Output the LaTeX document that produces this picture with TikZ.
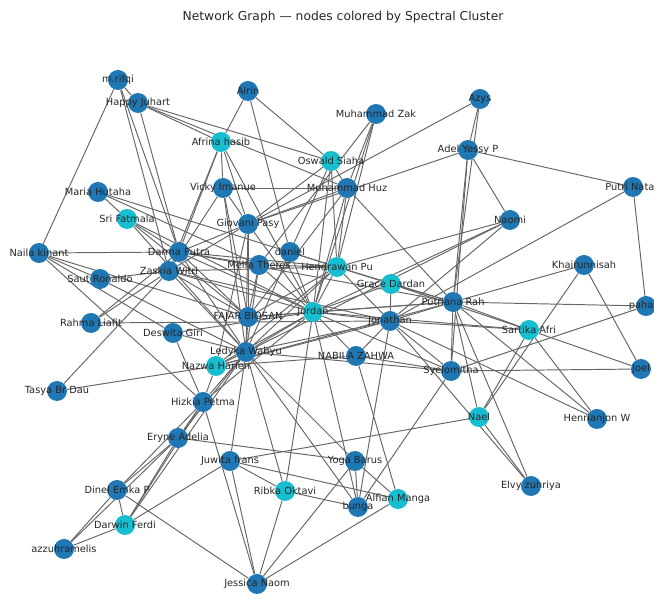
\documentclass[tikz,border=0pt]{standalone}
\usepackage{fontspec}
\setmainfont{DejaVu Sans}
\usepackage{xcolor}
\usepackage{tikz}
\definecolor{clusterBlue}{HTML}{1F77B4}
\definecolor{clusterCyan}{HTML}{17BECF}
\pgfdeclarelayer{background}
\pgfsetlayers{background,main}

\begin{document}
\begin{tikzpicture}[x = 0.02cm, y = -0.02cm, font = \fontsize{5.6}{6}\selectfont,
                    blueNode/.style  = {circle, fill = clusterBlue, minimum size = 0.4cm, inner sep = 0pt},
                    cyanNode/.style  = {circle, fill = clusterCyan, minimum size = 0.4cm, inner sep = 0pt},
                    nameLabel/.style = {text = black!85, inner sep = 0pt},
                    edgeLine/.style  = {draw = black!60, line width = 0.55pt}]
    \clip (0,0) rectangle (654,594);

    \node [font = \fontsize{7}{8}\selectfont, text = black!85] (title) at (343,17) {Network Graph — nodes colored by Spectral Cluster};

    % cluster nodes
    \node [blueNode] (mRifqi)       at (118, 80) {};
    \node [blueNode] (happyJuhart)  at (138,103) {};
    \node [blueNode] (airin)        at (248, 91) {};
    \node [blueNode] (azys)         at (480, 99) {};
    \node [blueNode] (muhammadZak)  at (376,114) {};
    \node [cyanNode] (afrinaHasib)  at (221,142) {};
    \node [cyanNode] (oswaldSiaha)  at (331,161) {};
    \node [blueNode] (adelYessy)    at (468,150) {};
    \node [blueNode] (muhammadHuz)  at (347,188) {};
    \node [blueNode] (vickyImanue)  at (223,188) {};
    \node [blueNode] (mariaHutaha)  at ( 98,192) {};
    \node [blueNode] (putriNatah)   at (633,187) {};
    \node [cyanNode] (sriFatmala)   at (127,219) {};
    \node [blueNode] (giovaniPasy)  at (248,224) {};
    \node [blueNode] (naomi)        at (510,220) {};
    \node [blueNode] (nailaKinant)  at ( 39,253) {};
    \node [blueNode] (darmaPutra)   at (179,252) {};
    \node [blueNode] (daniel)       at (290,252) {};
    \node [blueNode] (melfaTheres)  at (259,265) {};
    \node [cyanNode] (hendrawanPu)  at (337,267) {};
    \node [blueNode] (khairunnisah) at (584,265) {};
    \node [blueNode] (zaskiaWitri)  at (169,271) {};
    \node [blueNode] (sautRonaldo)  at (100,279) {};
    \node [cyanNode] (graceDardan)  at (391,284) {};
    \node [blueNode] (fajarBiosan)  at (248,317) {};
    \node [cyanNode] (jordan)       at (313,312) {};
    \node [blueNode] (putrianaRah)  at (453,302) {};
    \node [blueNode] (paha)         at (646,306) {};
    \node [blueNode] (jonathan)     at (390,321) {};
    \node [blueNode] (rahmaLiafit)  at ( 91,323) {};
    \node [blueNode] (deswitaGiri)  at (173,333) {};
    \node [cyanNode] (sartikaAfri)  at (529,330) {};
    \node [blueNode] (ledykaWahyu)  at (246,352) {};
    \node [cyanNode] (nazwaHarien)  at (216,366) {};
    \node [blueNode] (nabilaZahwa)  at (356,356) {};
    \node [blueNode] (syelomitha)   at (451,371) {};
    \node [blueNode] (joel)         at (641,369) {};
    \node [blueNode] (tasyaBrDau)   at ( 57,391) {};
    \node [blueNode] (hizkiaPetma)  at (203,402) {};
    \node [cyanNode] (nael)         at (479,417) {};
    \node [blueNode] (henrianjonW)  at (597,419) {};
    \node [blueNode] (eryneAdelia)  at (178,438) {};
    \node [blueNode] (juwitaFrans)  at (230,461) {};
    \node [blueNode] (yogaBarus)    at (355,461) {};
    \node [blueNode] (elvyZuhriya)  at (531,486) {};
    \node [blueNode] (dinelEmka)    at (117,490) {};
    \node [cyanNode] (ribkaOktavi)  at (285,491) {};
    \node [cyanNode] (alfianManga)  at (398,499) {};
    \node [blueNode] (bunga)        at (358,507) {};
    \node [cyanNode] (darwinFerdi)  at (125,525) {};
    \node [blueNode] (azzuhramelis) at ( 64,549) {};
    \node [blueNode] (jessicaNaom)  at (257,584) {};

    % names on top of the circles
    \foreach \n/\t in {mRifqi/m.rifqi, happyJuhart/Happy Juhart, airin/Airin, azys/Azys,
                       muhammadZak/Muhammad Zak, afrinaHasib/Afrina hasib, oswaldSiaha/Oswald Siaha,
                       adelYessy/Adel Yessy P, muhammadHuz/Muhammad Huz, vickyImanue/Vicky Imanue,
                       mariaHutaha/Maria Hutaha, putriNatah/Putri Natah, sriFatmala/Sri Fatmala,
                       giovaniPasy/Giovani Pasy, naomi/Naomi, nailaKinant/Naila kinant,
                       darmaPutra/Darma Putra, daniel/daniel, melfaTheres/Melfa Theres,
                       hendrawanPu/Hendrawan Pu, khairunnisah/Khairunnisah, zaskiaWitri/Zaskia Witri,
                       sautRonaldo/Saut Ronaldo, graceDardan/Grace Dardan, fajarBiosan/FAJAR BIOSAN,
                       jordan/Jordan, putrianaRah/Putriana Rah, jonathan/Jonathan,
                       rahmaLiafit/Rahma Liafit, deswitaGiri/Deswita Giri, sartikaAfri/Sartika Afri,
                       ledykaWahyu/Ledyka Wahyu, nazwaHarien/Nazwa Harien, nabilaZahwa/NABILA ZAHWA,
                       syelomitha/Syelomitha, joel/Joel, tasyaBrDau/Tasya Br Dau,
                       hizkiaPetma/Hizkia Petma, nael/Nael, henrianjonW/Henrianjon W,
                       eryneAdelia/Eryne Adelia, juwitaFrans/Juwita frans, yogaBarus/Yoga Barus,
                       elvyZuhriya/Elvy zuhriya, dinelEmka/Dinel Emka P, ribkaOktavi/Ribka Oktavi,
                       alfianManga/Alfian Manga, bunga/bunga, darwinFerdi/Darwin Ferdi,
                       azzuhramelis/azzuhramelis, jessicaNaom/Jessica Naom}
        \node [nameLabel] at (\n) {\t};
    \node [nameLabel, anchor = west] at ([xshift = -10] paha.center) {paha};

    % connections
    \begin{pgfonlayer}{background}
        \foreach \a/\b in {mRifqi/nailaKinant, mRifqi/happyJuhart, mRifqi/zaskiaWitri, mRifqi/darmaPutra,
                           happyJuhart/afrinaHasib, happyJuhart/oswaldSiaha, happyJuhart/darmaPutra, happyJuhart/muhammadHuz,
                           airin/afrinaHasib, airin/oswaldSiaha, airin/daniel,
                           afrinaHasib/vickyImanue, afrinaHasib/giovaniPasy, afrinaHasib/darmaPutra, afrinaHasib/jordan, afrinaHasib/zaskiaWitri,
                           azys/adelYessy, azys/giovaniPasy, azys/putrianaRah,
                           adelYessy/putriNatah, adelYessy/naomi, adelYessy/giovaniPasy, adelYessy/putrianaRah, adelYessy/syelomitha,
                           muhammadZak/hendrawanPu, muhammadZak/jordan, muhammadZak/melfaTheres,
                           oswaldSiaha/muhammadHuz, oswaldSiaha/hendrawanPu, oswaldSiaha/jordan, oswaldSiaha/giovaniPasy, oswaldSiaha/daniel,
                           muhammadHuz/vickyImanue, muhammadHuz/giovaniPasy, muhammadHuz/hendrawanPu, muhammadHuz/jordan,
                           muhammadHuz/fajarBiosan, muhammadHuz/putrianaRah, muhammadHuz/muhammadZak,
                           vickyImanue/giovaniPasy, vickyImanue/ledykaWahyu, vickyImanue/fajarBiosan, vickyImanue/zaskiaWitri,
                           mariaHutaha/sriFatmala, mariaHutaha/hendrawanPu, mariaHutaha/melfaTheres,
                           putriNatah/paha, putriNatah/jonathan,
                           sriFatmala/darmaPutra, sriFatmala/jordan, sriFatmala/ledykaWahyu, sriFatmala/fajarBiosan,
                           giovaniPasy/fajarBiosan, giovaniPasy/jordan, giovaniPasy/ledykaWahyu, giovaniPasy/zaskiaWitri,
                           giovaniPasy/nazwaHarien, giovaniPasy/darmaPutra,
                           naomi/jordan, naomi/hendrawanPu, naomi/jonathan, naomi/ledykaWahyu,
                           nailaKinant/darmaPutra, nailaKinant/hizkiaPetma, nailaKinant/deswitaGiri, nailaKinant/fajarBiosan, nailaKinant/sautRonaldo,
                           darmaPutra/zaskiaWitri, darmaPutra/jordan, darmaPutra/melfaTheres, darmaPutra/fajarBiosan,
                           darmaPutra/ledykaWahyu, darmaPutra/hendrawanPu, darmaPutra/rahmaLiafit, darmaPutra/putrianaRah,
                           daniel/jordan, daniel/hendrawanPu, daniel/ledykaWahyu,
                           melfaTheres/hendrawanPu, melfaTheres/jordan, melfaTheres/fajarBiosan, melfaTheres/ledykaWahyu,
                           hendrawanPu/jordan, hendrawanPu/graceDardan, hendrawanPu/jonathan, hendrawanPu/ledykaWahyu,
                           hendrawanPu/nazwaHarien, hendrawanPu/fajarBiosan, hendrawanPu/zaskiaWitri, hendrawanPu/putrianaRah,
                           khairunnisah/putrianaRah, khairunnisah/joel, khairunnisah/nael,
                           zaskiaWitri/sautRonaldo, zaskiaWitri/jordan, zaskiaWitri/rahmaLiafit, zaskiaWitri/tasyaBrDau,
                           zaskiaWitri/ledykaWahyu, zaskiaWitri/jonathan, zaskiaWitri/fajarBiosan,
                           sautRonaldo/ledykaWahyu,
                           graceDardan/jordan, graceDardan/putrianaRah, graceDardan/jonathan, graceDardan/sartikaAfri,
                           fajarBiosan/jordan, fajarBiosan/ledykaWahyu, fajarBiosan/putrianaRah,
                           jordan/jonathan, jordan/putrianaRah, jordan/ledykaWahyu, jordan/nazwaHarien, jordan/nabilaZahwa,
                           jordan/syelomitha, jordan/sartikaAfri, jordan/ribkaOktavi, jordan/bunga, jordan/hizkiaPetma, jordan/deswitaGiri,
                           putrianaRah/paha, putrianaRah/sartikaAfri, putrianaRah/henrianjonW, putrianaRah/syelomitha,
                           putrianaRah/nael, putrianaRah/elvyZuhriya, putrianaRah/jonathan, putrianaRah/nazwaHarien,
                           paha/syelomitha,
                           jonathan/rahmaLiafit, jonathan/nabilaZahwa, jonathan/syelomitha, jonathan/henrianjonW,
                           jonathan/elvyZuhriya, jonathan/bunga, jonathan/ledykaWahyu, jonathan/nazwaHarien,
                           sartikaAfri/joel, sartikaAfri/henrianjonW, sartikaAfri/nael, sartikaAfri/jonathan,
                           syelomitha/joel, syelomitha/nabilaZahwa, syelomitha/bunga, syelomitha/ledykaWahyu,
                           ledykaWahyu/hizkiaPetma, ledykaWahyu/eryneAdelia, ledykaWahyu/nazwaHarien, ledykaWahyu/darwinFerdi,
                           ledykaWahyu/yogaBarus, ledykaWahyu/bunga, ledykaWahyu/ribkaOktavi, ledykaWahyu/juwitaFrans, ledykaWahyu/deswitaGiri,
                           nazwaHarien/tasyaBrDau, nazwaHarien/hizkiaPetma,
                           deswitaGiri/hizkiaPetma,
                           hizkiaPetma/eryneAdelia, hizkiaPetma/darwinFerdi, hizkiaPetma/dinelEmka, hizkiaPetma/jessicaNaom,
                           eryneAdelia/yogaBarus, eryneAdelia/darwinFerdi, eryneAdelia/dinelEmka, eryneAdelia/azzuhramelis,
                           dinelEmka/darwinFerdi, dinelEmka/azzuhramelis, dinelEmka/jessicaNaom,
                           darwinFerdi/azzuhramelis, darwinFerdi/juwitaFrans,
                           nael/elvyZuhriya, nael/juwitaFrans,
                           juwitaFrans/alfianManga, juwitaFrans/jessicaNaom, juwitaFrans/ribkaOktavi,
                           yogaBarus/alfianManga, yogaBarus/jessicaNaom, yogaBarus/bunga,
                           ribkaOktavi/bunga, ribkaOktavi/jessicaNaom,
                           alfianManga/jessicaNaom, alfianManga/nabilaZahwa,
                           nabilaZahwa/nazwaHarien}
            \draw [edgeLine] (\a) -- (\b);
    \end{pgfonlayer}
\end{tikzpicture}
\end{document}
